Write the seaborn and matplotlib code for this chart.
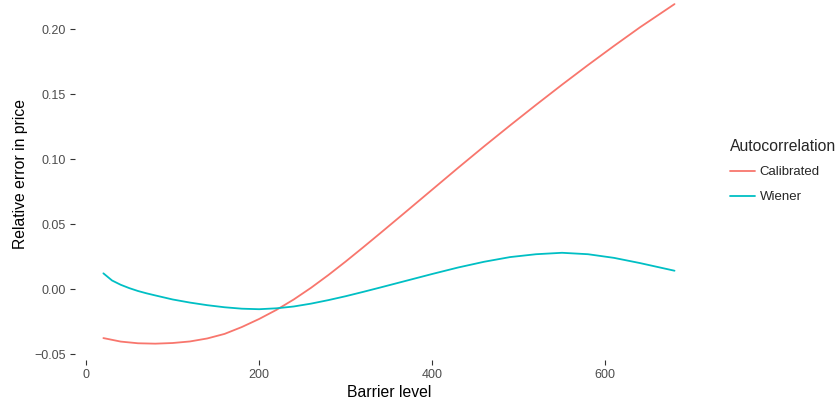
import numpy as np
import pandas as pd
import matplotlib
matplotlib.use("Agg")
import matplotlib.pyplot as plt
from matplotlib.lines import Line2D
import seaborn as sns

# barrier levels and relative pricing error
calib_x = [20, 40, 60, 80, 100, 120, 140, 160, 180, 200, 220, 240, 260, 280,
           300, 320, 340, 370, 400, 430, 460, 490, 520, 550, 580, 610, 640, 680]
calib_y = [-0.0377, -0.0404, -0.0417, -0.0420, -0.0415, -0.0403, -0.0380,
           -0.0345, -0.0292, -0.0230, -0.0160, -0.0080, 0.0010, 0.0108,
           0.0212, 0.0320, 0.0430, 0.0597, 0.0765, 0.0933, 0.1098, 0.1259,
           0.1417, 0.1572, 0.1723, 0.1870, 0.2013, 0.2192]

wiener_x = [20, 30, 40, 50, 60, 70, 80, 100, 120, 140, 160, 180, 200, 220,
            240, 260, 280, 300, 320, 340, 370, 400, 430, 460, 490, 520, 550,
            580, 610, 640, 680]
wiener_y = [0.0121, 0.0066, 0.0033, 0.0007, -0.0015, -0.0033, -0.0049,
            -0.0080, -0.0104, -0.0124, -0.0140, -0.0151, -0.0155, -0.0148,
            -0.0134, -0.0112, -0.0085, -0.0055, -0.0022, 0.0012, 0.0064,
            0.0116, 0.0166, 0.0210, 0.0246, 0.0268, 0.0279, 0.0268, 0.0240,
            0.0200, 0.0141]

series_names = ["Calibrated", "Wiener"]
colors = ["#F8766D", "#00BFC4"]

x_ticks = [0, 200, 400, 600]
y_ticks = [-0.05, 0.00, 0.05, 0.10, 0.15, 0.20]

df = pd.concat([
    pd.DataFrame({"barrier": calib_x, "err": calib_y, "Autocorrelation": series_names[0]}),
    pd.DataFrame({"barrier": wiener_x, "err": wiener_y, "Autocorrelation": series_names[1]}),
])

sns.set_style("white")
plt.rcParams["font.family"] = ["Liberation Sans", "DejaVu Sans"]

fig = plt.figure(figsize=(8.38, 4.05), dpi=100)
ax = fig.add_axes([0.0893, 0.111, 0.7497, 0.920])

sns.lineplot(data=df, x="barrier", y="err", hue="Autocorrelation",
             palette=dict(zip(series_names, colors)), linewidth=1.3,
             ax=ax, legend=False)

ax.set_xlim(-13, 713)
ax.set_ylim(-0.0546, 0.232)
ax.set_xticks(x_ticks)
ax.set_xticklabels([str(v) for v in x_ticks])
ax.set_yticks(y_ticks)
ax.set_yticklabels([f"{v:.2f}".replace("-", "\u2212") for v in y_ticks])
for s in ax.spines.values():
    s.set_visible(False)
ax.tick_params(axis="both", direction="out", length=3.8, width=0.8,
               color="#333333", labelcolor="#4D4D4D", labelsize=9, pad=2.5,
               left=True, bottom=True)
ax.set_xlabel("Barrier level", fontsize=11.3, color="black", labelpad=3)
ax.set_ylabel("Relative error in price", fontsize=11.3, color="black", labelpad=5)
ax.grid(False)

handles = [Line2D([0], [0], color=c, lw=1.3) for c in colors]
fig.legend(handles, series_names, title="Autocorrelation",
           loc="upper left", bbox_to_anchor=(0.857, 0.687), frameon=False,
           fontsize=9.5, title_fontsize=11.3, handlelength=1.9,
           labelspacing=0.95, handletextpad=0.35, alignment="left")

fig.savefig("out.png", dpi=100)
